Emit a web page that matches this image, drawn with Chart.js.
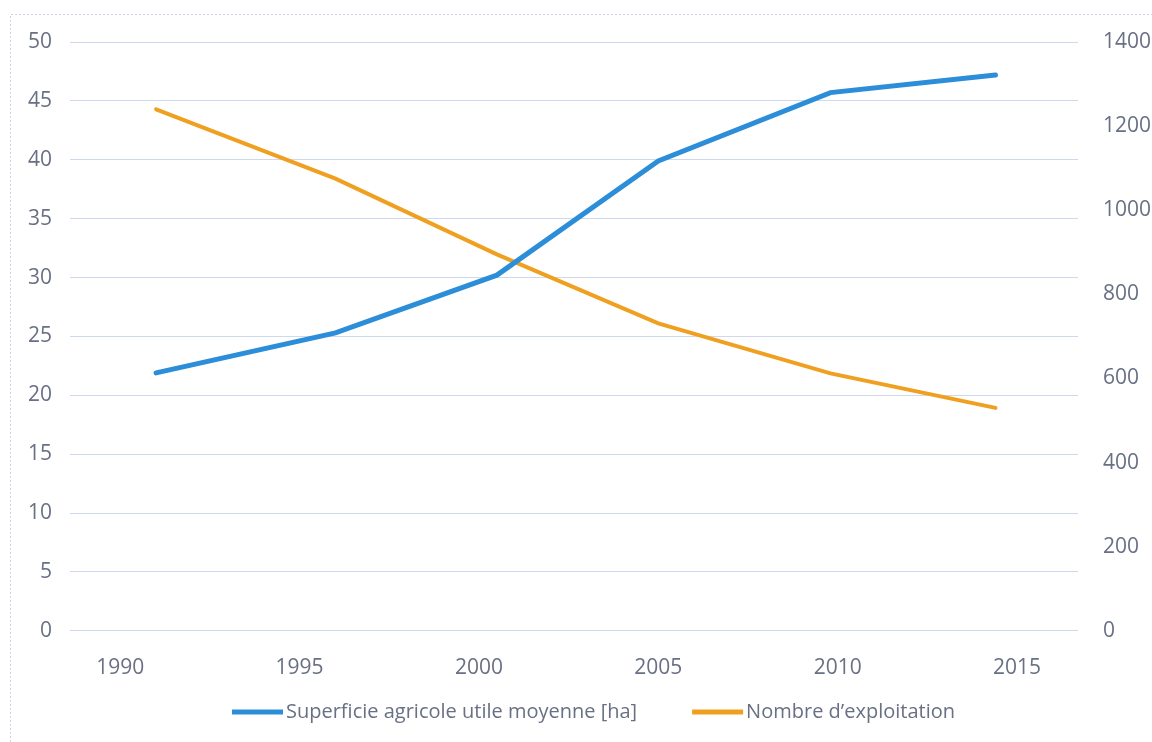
<!DOCTYPE html>
<html><head><meta charset="utf-8">
<script src="https://cdn.jsdelivr.net/npm/chart.js@4.4.1/dist/chart.umd.min.js"></script>
<style>html,body{margin:0;padding:0;background:#fff;}#wrap{width:1152px;height:742px;position:relative;}</style>
</head><body><div id="wrap"><canvas id="c" width="1152" height="742"></canvas></div>
<script>
const years = [1991, 1996, 2000.5, 2005, 2009.8, 2014.4];
const surfaceMoyenne = [21.9, 25.3, 30.2, 39.9, 45.7, 47.2];
const nombreExploitations = [1240, 1075, 895, 731, 612, 530];
const seriesLabels = ["Superficie agricole utile moyenne [ha]", "Nombre d’exploitation"];
const xTicks = [1990, 1995, 2000, 2005, 2010, 2015];

const textColor = '#687084';
const gridColor = '#cfd9ee';
const FONT = '"Open Sans", "Liberation Sans", sans-serif';

const framePlugin = {
  id: 'frame',
  beforeDraw(chart) {
    const ctx = chart.ctx;
    ctx.save();
    ctx.strokeStyle = '#c8d2e8';
    ctx.lineWidth = 1;
    ctx.setLineDash([2, 2]);
    ctx.beginPath();
    ctx.moveTo(10.5, 742);
    ctx.lineTo(10.5, 14.5);
    ctx.lineTo(1152, 14.5);
    ctx.stroke();
    ctx.restore();
  }
};

const legendPlugin = {
  id: 'customLegend',
  afterDraw(chart) {
    const ctx = chart.ctx;
    ctx.save();
    ctx.font = '20px ' + FONT;
    ctx.textBaseline = 'middle';
    ctx.textAlign = 'left';
    let x = 232;
    const y = 712;
    chart.data.datasets.forEach((ds) => {
      ctx.strokeStyle = ds.borderColor;
      ctx.lineWidth = 5;
      ctx.beginPath();
      ctx.moveTo(x, y);
      ctx.lineTo(x + 51, y);
      ctx.stroke();
      x += 54;
      ctx.fillStyle = textColor;
      ctx.fillText(ds.label, x, y);
      x += ctx.measureText(ds.label).width + 55;
    });
    ctx.restore();
  }
};

new Chart(document.getElementById('c'), {
  type: 'line',
  data: {
    datasets: [
      {
        label: seriesLabels[0],
        data: years.map((x, i) => ({ x: x, y: surfaceMoyenne[i] })),
        borderColor: '#2C8DD8',
        backgroundColor: '#2C8DD8',
        borderWidth: 5,
        pointRadius: 0,
        tension: 0,
        yAxisID: 'y',
        borderCapStyle: 'round'
      },
      {
        label: seriesLabels[1],
        data: years.map((x, i) => ({ x: x, y: nombreExploitations[i] })),
        borderColor: '#F0A020',
        backgroundColor: '#F0A020',
        borderWidth: 4,
        pointRadius: 0,
        tension: 0,
        yAxisID: 'y1',
        borderCapStyle: 'round'
      }
    ]
  },
  options: {
    responsive: false,
    animation: false,
    devicePixelRatio: 1,
    layout: { padding: { top: 42, bottom: 36, left: 0, right: 0 } },
    plugins: { legend: { display: false }, tooltip: { enabled: false } },
    scales: {
      x: {
        type: 'linear',
        min: 1988.6,
        max: 2016.7,
        grid: { display: false, drawTicks: false },
        border: { display: false },
        afterBuildTicks: (s) => { s.ticks = xTicks.map(v => ({ value: v })); },
        ticks: {
          padding: 25,
          color: textColor,
          font: { family: FONT, size: 21 },
          maxRotation: 0,
          callback: (v) => String(v)
        }
      },
      y: {
        position: 'left',
        min: 0,
        max: 50,
        grid: { color: gridColor, lineWidth: 1, drawTicks: false },
        border: { display: false },
        afterFit: (s) => { s.width = 70; },
        ticks: { stepSize: 5, padding: 18, color: textColor, font: { family: FONT, size: 21 }, callback: (v) => String(v) }
      },
      y1: {
        position: 'right',
        min: 0,
        max: 1400,
        grid: { display: false, drawTicks: false },
        border: { display: false },
        afterFit: (s) => { s.width = 74; },
        ticks: { stepSize: 200, padding: 25, color: textColor, font: { family: FONT, size: 21 }, callback: (v) => String(v) }
      }
    }
  },
  plugins: [framePlugin, legendPlugin]
});
</script>
</body></html>
